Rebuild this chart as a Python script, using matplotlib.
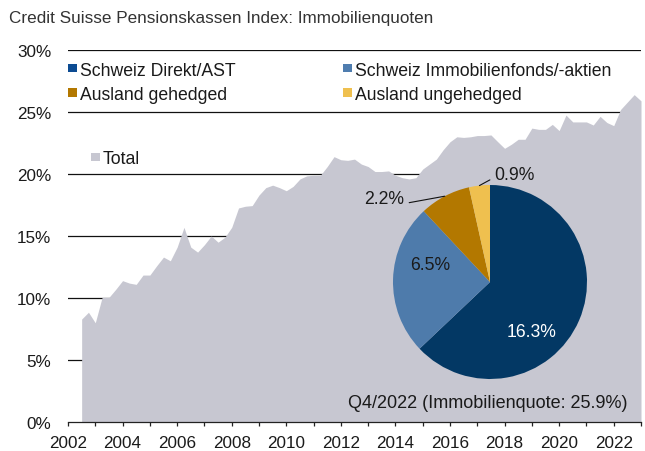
import numpy as np
import matplotlib
matplotlib.use("Agg")
import matplotlib.pyplot as plt
from matplotlib.patches import Rectangle

plt.rcParams["font.family"] = ["Liberation Sans", "DejaVu Sans"]

# Total real-estate allocation (% of assets), quarterly, Q2 2002 .. Q4 2022
total_quote = [
    8.3, 8.85, 8.0,
    10.05, 10.05, 10.7, 11.4,
    11.2, 11.1, 11.85, 11.85,
    12.6, 13.3, 13.0, 14.1,
    15.7, 14.1, 13.7, 14.3,
    15.0, 14.5, 14.9, 15.7,
    17.26, 17.4, 17.45, 18.3,
    18.9, 19.1, 18.9, 18.65,
    19.0, 19.6, 19.85, 19.9,
    19.9, 20.6, 21.4, 21.15,
    21.1, 21.2, 20.8, 20.6,
    20.2, 20.2, 20.25, 19.9,
    19.7, 19.6, 19.7, 20.4,
    20.8, 21.2, 21.96, 22.6,
    23.0, 22.95, 23.0, 23.1,
    23.1, 23.15, 22.6, 22.07,
    22.4, 22.8, 22.8, 23.7,
    23.6, 23.6, 24.0, 23.5,
    24.75, 24.2, 24.2, 24.2,
    23.95, 24.65, 24.15, 23.9,
    25.2, 25.8, 26.4, 25.9,
]
first_quarter_end = 2002.5

# Breakdown at Q4/2022
segments = ["Schweiz Direkt/AST", "Schweiz Immobilienfonds/-aktien",
            "Ausland gehedged", "Ausland ungehedged"]
segment_share = [16.3, 6.5, 2.2, 0.9]
pie_colors = ["#033864", "#4e7bab", "#b37800", "#efc04f"]
legend_colors = ["#0c4b92", "#4f7daf", "#b37800", "#efc04f"]
total_color = "#c7c7d1"

x_years = list(range(2002, 2024))
x_labels = [str(y) if y % 2 == 0 else "" for y in x_years]
y_ticks = [0, 5, 10, 15, 20, 25, 30]
y_labels = [f"{v}%" for v in y_ticks]

title = "Credit Suisse Pensionskassen Index: Immobilienquoten"
footnote = "Q4/2022 (Immobilienquote: 25.9%)"

W, H = 645, 452
fig = plt.figure(figsize=(W / 100, H / 100), dpi=100)
TXT = "#1a1a1a"
FS = 12.7
FS_TICK = 12.3


def fx(px):
    return px / W


def fy(py):
    return 1 - py / H


# main time-series axes
ax = fig.add_axes([fx(68), fy(423), fx(641) - fx(68), fy(51) - fy(423)])
t = first_quarter_end + 0.25 * np.arange(len(total_quote))
ax.fill_between(t, total_quote, 0, color=total_color, lw=0, zorder=2)
ax.set_xlim(2002, 2023)
ax.set_ylim(0, 30)

for v in y_ticks[1:]:
    ax.axhline(v, color="#111111", lw=0.9, zorder=1)

for s in ["top", "right", "left"]:
    ax.spines[s].set_visible(False)
ax.spines["bottom"].set_color("#222222")
ax.spines["bottom"].set_linewidth(0.9)
ax.spines["bottom"].set_zorder(3)

ax.set_yticks(y_ticks)
ax.set_yticklabels(y_labels)
ax.tick_params(axis="y", length=0, pad=12, labelsize=FS_TICK, labelcolor=TXT)
ax.set_xticks(x_years)
ax.set_xticklabels(x_labels)
ax.tick_params(axis="x", length=3, width=0.9, color="#222222", pad=6.5,
               labelsize=FS_TICK, labelcolor=TXT)

fig.text(fx(9), fy(18), title, fontsize=12.3, color="#333333",
         ha="left", va="center")


# legend entries: small square + label
def legend_entry(px, py, color, label):
    sq = 8.5
    fig.add_artist(Rectangle((fx(px), fy(py + sq / 2)), fx(sq), sq / H,
                             transform=fig.transFigure, color=color, lw=0))
    fig.text(fx(px + sq + 3.5), fy(py), label, fontsize=FS, color=TXT,
             ha="left", va="center_baseline")


legend_entry(68, 69, legend_colors[0], segments[0])
legend_entry(343, 69, legend_colors[1], segments[1])
legend_entry(68, 93.5, legend_colors[2], segments[2])
legend_entry(343, 93.5, legend_colors[3], segments[3])
legend_entry(91, 158, total_color, "Total")

# pie inset for the latest quarter
cx, cy, r = 490, 283, 97
pax = fig.add_axes([fx(cx - r), fy(cy + r), fx(2 * r), 2 * r / H])
wedges, _ = pax.pie(segment_share, colors=pie_colors, startangle=90,
                    counterclock=False, radius=1,
                    wedgeprops=dict(linewidth=0))
pax.set_xlim(-1, 1)
pax.set_ylim(-1, 1)
pax.set_aspect("equal")
pax.axis("off")


def polar(rad, ang):
    a = np.deg2rad(ang)
    return rad * np.cos(a), rad * np.sin(a)


labels = [f"{v}%" for v in segment_share]
pax.text(*polar(0.66, -50), labels[0], color="white", fontsize=FS,
         ha="center", va="center")
pax.text(*polar(0.64, 164), labels[1], color=TXT, fontsize=FS,
         ha="center", va="center")

w2 = wedges[2]
mid2 = (w2.theta1 + w2.theta2) / 2
pax.annotate(labels[2], xy=polar(1.0, mid2), xytext=(-0.89, 0.86),
             fontsize=FS, color=TXT, ha="right", va="center",
             arrowprops=dict(arrowstyle="-", color="#111111", lw=0.8,
                             shrinkA=2, shrinkB=0, relpos=(1.0, 0.2)),
             annotation_clip=False)
w3 = wedges[3]
mid3 = (w3.theta1 + w3.theta2) / 2
pax.annotate(labels[3], xy=polar(1.0, mid3), xytext=(0.04, 1.11),
             fontsize=FS, color=TXT, ha="left", va="center",
             arrowprops=dict(arrowstyle="-", color="#111111", lw=0.8,
                             shrinkA=1, shrinkB=0, relpos=(0.0, 0.3)),
             annotation_clip=False)

fig.text(fx(627), fy(404), footnote, fontsize=13, color=TXT,
         ha="right", va="center")

fig.savefig("out.png", dpi=100)
